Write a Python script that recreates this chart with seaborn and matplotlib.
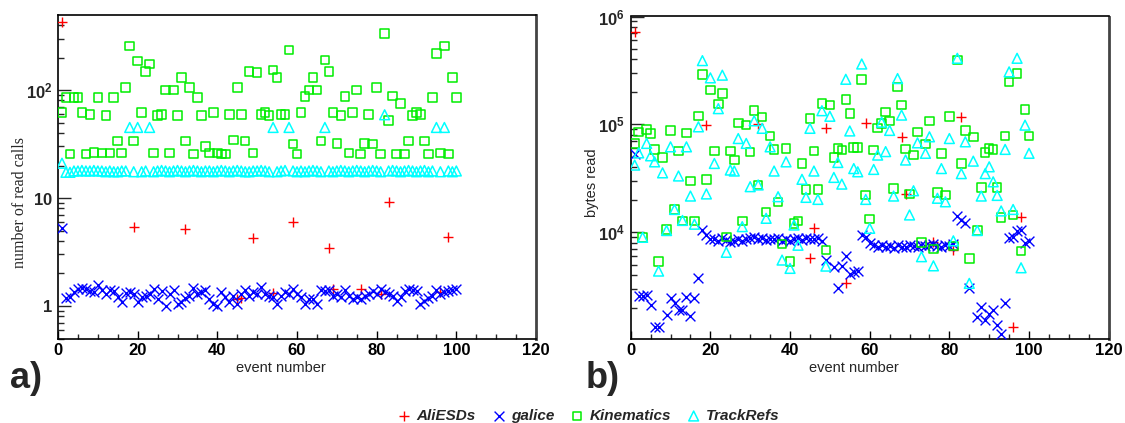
import numpy as np
import matplotlib
matplotlib.use("Agg")
import matplotlib.pyplot as plt
import seaborn as sns
from matplotlib.ticker import FixedLocator, FixedFormatter, NullFormatter, MultipleLocator, LogLocator

nan = np.nan
events = list(range(1, 101))

# ---------------- panel a) number of read calls ----------------
ali_calls_events = [1, 19, 32, 45, 46, 49, 54, 59, 68, 69, 76, 81, 83, 96, 98]
ali_calls = [430, 5.4, 5.2, 1.16, 1.18, 4.3, 1.32, 6.0, 3.45, 1.44, 1.44, 1.3, 9.2, 1.35, 4.35]

galice_calls = [
    5.3, 1.18, 1.2, 1.35, 1.45, 1.48, 1.45, 1.38, 1.35, 1.55,
    1.4, 1.3, 1.42, 1.38, 1.2, 1.1, 1.32, 1.35, 1.3, 1.1,
    1.2, 1.25, 1.28, 1.45, 1.15, 1.38, 1.0, 1.3, 1.4, 1.05,
    1.08, 1.18, 1.25, 1.48, 1.3, 1.35, 1.42, 1.15, 1.05, 1.0,
    1.35, 1.2, 1.1, 1.25, 1.05, 1.3, 1.4, 1.25, 1.35, 1.3,
    1.5, 1.3, 1.25, 1.2, 1.05, 1.25, 1.35, 1.3, 1.45, 1.3,
    1.2, 1.05, 1.15, 1.15, 1.05, 1.4, 1.38, 1.4, 1.25, 1.3,
    1.2, 1.4, 1.25, 1.15, 1.2, 1.15, 1.25, 1.3, 1.38, 1.3,
    1.45, 1.35, 1.3, 1.25, 1.12, 1.2, 1.38, 1.45, 1.42, 1.38,
    1.05, 1.12, 1.18, 1.25, 1.4, 1.3, 1.35, 1.38, 1.4, 1.45,
]

kin_calls = [
    62, 85, 25.6, 85, 85, 62, 25.6, 59, 26.3, 85,
    26, 58, 26, 85, 33.7, 26, 106, 255, 33.7, 186,
    62, 148, 174, 26, 58, 59, 100, 26, 100, 58,
    130, 33.7, 106, 25.6, 85, 58, 30, 26, 62, 26,
    25.6, 25.6, 59, 34.5, 106, 59, 33.7, 148, 26, 145,
    59, 62, 58, 153, 130, 59, 59, 235, 31.6, 25.6,
    62, 87, 100, 130, 100, 33.7, 190, 148, 62, 32,
    58, 87, 26, 62, 100, 25.6, 32, 59, 31.6, 106,
    25.6, 335, 52, 88, 25.6, 75, 25.6, 33.7, 58, 62,
    59, 33.7, 25.6, 85, 219, 26, 255, 25.6, 130, 85,
]

trk_calls = [
    21, 17.3, 17.3, 17.8, 17.8, 18.0, 17.8, 17.8, 18.0, 17.8,
    17.8, 17.5, 17.8, 17.5, 17.5, 17.8, 17.8, 45, 17.5, 45,
    17.5, 17.8, 45, 17.5, 17.8, 18.0, 17.8, 17.5, 17.8, 18.0,
    17.8, 17.5, 17.8, 18.0, 17.8, 17.5, 17.8, 17.8, 17.5, 17.8,
    18.0, 17.8, 17.5, 17.8, 18.0, 17.8, 17.5, 17.5, 17.8, 17.8,
    18.0, 17.8, 17.5, 45, 17.5, 17.8, 18.0, 45, 17.8, 17.5,
    17.8, 17.5, 17.8, 18.0, 17.8, 17.5, 45, 17.8, 17.5, 17.8,
    18.0, 17.8, 17.5, 17.8, 18.0, 17.8, 17.5, 17.8, 18.0, 17.8,
    17.5, 59, 17.8, 18.0, 17.8, 17.5, 17.8, 18.0, 17.8, 17.5,
    17.8, 18.0, 17.5, 17.8, 45, 17.5, 45, 17.8, 17.5, 17.8,
]

# ---------------- panel b) bytes read ----------------
ali_bytes_events = [1, 19, 32, 45, 46, 49, 54, 59, 68, 69, 76, 81, 83, 96, 98]
ali_bytes = [720000, 98000, 100000, 5750, 10900, 93000, 3370, 103000, 76000,
             22700, 8200, 6860, 118000, 1340, 14000]

galice_bytes = [
    53000, 2570, 2570, 2630, 2130, 1340, 1340, nan, 1710, 2450,
    2220, 1930, 1930, 2520, 1690, 2470, 3750, 10500, 9440, 8600,
    8700, 8400, 8900, 8500, 8200, 8400, 8600, 8300, 8700, 8900,
    9000, 8700, 8800, 8500, 8700, 8600, 8800, 8400, 8600, 8300,
    8700, 8800, 8500, 8900, 8700, 8600, 8800, 8400, 5540, nan,
    4740, 3030, 4870, 6000, 4100, 4300, 4400, 9450, 9100, 7900,
    7600, 7400, 7700, 7300, 7500, 7200, 7600, 7400, 7300, 7600,
    7500, 7400, 7700, 7500, 7600, 7800, 7500, 7400, 7600, 7500,
    7800, 14100, 13000, 12100, 3030, nan, 1630, 2020, 1540, 1750,
    1900, 1390, 1150, 2230, 8960, 9000, 10300, 10600, 7900, 8350,
]

kin_bytes = [
    66700, 85000, 9000, 90000, 82000, 58700, 5350, 49400, 10600, 88000,
    16300, 57000, 12800, 83500, 29800, 12700, 120000, 290000, 31000, 208000,
    57000, 154000, 194000, 9100, 57000, 46800, 103500, 12700, 98500, 55700,
    134000, 27500, 117000, 15500, 78000, 58700, 19200, 7800, 60000, 5400,
    12100, 12700, 43500, 25000, 113000, 57000, 25000, 156000, 6850, 151000,
    49400, 60000, 58000, 170000, 127000, 61000, 61000, 261000, 22100, 13300,
    57800, 93000, 102000, 131000, 108000, 25500, 223000, 151000, 59000, 22700,
    52000, 85000, 8100, 65700, 108000, 7000, 23300, 54000, 22100, 118000,
    7500, 394000, 43500, 88000, 5750, 76800, 10400, 26000, 55000, 60000,
    58700, 26000, 13800, 78500, 248000, 14500, 296000, 6750, 137000, 78500,
]

trk_bytes = [
    42000, 54500, 9000, 66700, 51200, 45000, 4380, 35600, 10400, 62000,
    16300, 33300, 12900, 62000, 21700, 11900, 95000, 390000, 22700, 270000,
    43500, 140000, 286000, 6540, 37800, 37000, 74000, 11300, 66700, 26500,
    108000, 27500, 92000, 13500, 62000, 37000, 21400, 5540, 45000, 4640,
    11700, 7600, 31000, 21100, 92000, 37000, 20200, 134000, 4870, 119000,
    32300, 44400, 28000, 262000, 87000, 39000, 36400, 363000, 20200, 10900,
    38300, 52000, 105000, 56000, 88000, 21700, 266000, 122000, 46800, 14500,
    24300, 67500, 5950, 54000, 76800, 4900, 20700, 39000, 19200, 74000,
    8350, 410000, 35000, 69000, 3370, 45700, 10400, 21700, 35000, 40500,
    29400, 22000, 15800, 58700, 307000, 16300, 410000, 4700, 98500, 54000,
]

series_names = ["AliESDs", "galice", "Kinematics", "TrackRefs"]
RED, BLUE, GREEN, CYAN = "#ff0000", "#0000ff", "#00ee00", "#00ffff"

# ---------------- style ----------------
sns.set_theme(style="white")
plt.rcParams["font.family"] = ["Liberation Sans", "DejaVu Sans"]
plt.rcParams["mathtext.fontset"] = "custom"
plt.rcParams["mathtext.rm"] = "Liberation Sans"
plt.rcParams["mathtext.bf"] = "Liberation Sans:bold"

fig = plt.figure(figsize=(11.25, 4.23), dpi=100)
ax1 = fig.add_axes([58 / 1125, 1 - 338.5 / 423, 478 / 1125, 323 / 423])
ax2 = fig.add_axes([630.7 / 1125, 1 - 338.5 / 423, 478 / 1125, 322 / 423])


def draw(ax, ali_e, ali_v, gal, kin, trk):
    sns.scatterplot(x=ali_e, y=ali_v, ax=ax, marker="+", color=RED, s=50,
                    linewidth=1.0, label=series_names[0], zorder=3)
    sns.scatterplot(x=events, y=gal, ax=ax, marker="x", color=BLUE, s=50,
                    linewidth=1.0, label=series_names[1], zorder=3)
    sns.scatterplot(x=events, y=kin, ax=ax, marker="s", s=38, facecolor="none",
                    edgecolor=GREEN, linewidth=1.1, label=series_names[2], zorder=3)
    sns.scatterplot(x=events, y=trk, ax=ax, marker="^", s=50, facecolor="none",
                    edgecolor=CYAN, linewidth=1.1, label=series_names[3], zorder=3)
    if ax.get_legend() is not None:
        ax.get_legend().remove()


draw(ax1, ali_calls_events, ali_calls, galice_calls, kin_calls, trk_calls)
draw(ax2, ali_bytes_events, ali_bytes, galice_bytes, kin_bytes, trk_bytes)

for ax in (ax1, ax2):
    ax.set_yscale("log")
    ax.set_xlim(0, 120)
    ax.xaxis.set_major_locator(MultipleLocator(20))
    ax.xaxis.set_minor_locator(MultipleLocator(5))
    ax.yaxis.set_minor_locator(LogLocator(base=10, subs=np.arange(2, 10)))
    ax.yaxis.set_minor_formatter(NullFormatter())
    ax.tick_params(axis="x", which="major", direction="in", length=6, width=1.0,
                   labelsize=12, pad=3, top=False, bottom=True, colors="black")
    ax.tick_params(axis="x", which="minor", direction="in", length=3.5, width=1.0,
                   top=False, bottom=True)
    ax.tick_params(axis="y", which="major", direction="in", length=9.5, width=1.0,
                   labelsize=12, pad=4, left=True, right=False)
    ax.tick_params(axis="y", which="minor", direction="in", length=4.5, width=1.0,
                   left=True, right=False)
    for lab in ax.get_xticklabels():
        lab.set_fontweight("bold")
    for side in ("left", "bottom", "top"):
        ax.spines[side].set_color("black")
        ax.spines[side].set_linewidth(1.2)
    ax.spines["right"].set_color("#444444")
    ax.spines["right"].set_linewidth(2.0)
    ax.set_xlabel("event number", fontsize=10.5)
    ax.xaxis.set_label_coords(0.4665, -0.07)

ax1.set_ylim(0.5, 490)
ax1.yaxis.set_major_locator(FixedLocator([1, 10, 100]))
ax1.yaxis.set_major_formatter(FixedFormatter([r"$\mathbf{1}$", r"$\mathbf{10}$", r"$\mathbf{10^{2}}$"]))
ax1.set_ylabel("number of read calls", fontsize=11.5, family=["Liberation Serif", "DejaVu Serif"])
ax1.yaxis.set_label_coords(-0.062, 0.42)

ax2.set_ylim(1040, 1e6)
ax2.yaxis.set_major_locator(FixedLocator([1e4, 1e5, 1e6]))
ax2.yaxis.set_major_formatter(FixedFormatter([r"$\mathbf{10^{4}}$", r"$\mathbf{10^{5}}$", r"$\mathbf{10^{6}}$"]))
ax2.set_ylabel("bytes read", fontsize=10.5)
ax2.yaxis.set_label_coords(-0.066, 0.485)

fig.text(10 / 1125, 1 - 388 / 423, "a)", fontsize=26, fontweight="bold", va="baseline", ha="left")
fig.text(586 / 1125, 1 - 388 / 423, "b)", fontsize=26, fontweight="bold", va="baseline", ha="left")

handles, labels = ax1.get_legend_handles_labels()
fig.legend(handles, labels, loc="center", bbox_to_anchor=(588 / 1125, 1 - 416 / 423),
           ncol=4, frameon=False, handletextpad=0.3, columnspacing=1.0,
           handlelength=1.0, prop={"weight": "bold", "style": "italic", "size": 11})

fig.savefig("out.png", dpi=100, facecolor="white")
